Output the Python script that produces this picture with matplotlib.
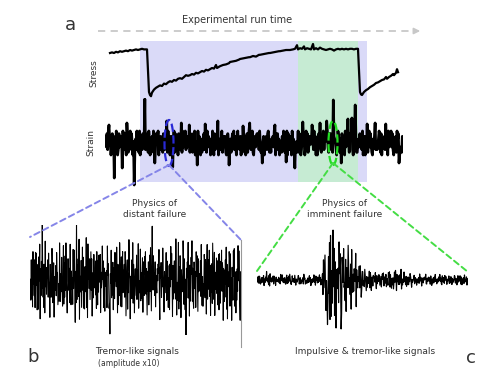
"""
Lab-quake figure: stress / strain run (a), tremor-like signal (b),
impulsive + tremor-like signal (c).
"""

import matplotlib
matplotlib.use("Agg")
import matplotlib.pyplot as plt
import numpy as np
from matplotlib.patches import Ellipse, ConnectionPatch

# ---- data ----

# stress curve: run time (0..298) and normalised stress
stress_t = [5, 7, 9, 11, 13, 15, 17, 19, 21, 23, 25, 27, 29, 31, 33, 35, 37, 39, 41, 42,
            43, 44, 45, 46,
            47, 49, 51, 53, 55, 57, 59, 61, 63, 65, 67, 69, 71, 73, 75, 77, 79, 81, 83, 85,
            87, 89, 91, 93, 95, 97, 99, 101, 103, 105, 107, 109, 111, 112, 114, 115, 118,
            121, 124, 125, 128, 131, 134, 135, 138, 141, 144, 145, 148, 151, 154, 155, 158,
            161, 164, 165, 168, 171, 174, 175, 178, 181, 184, 185, 188,
            190, 192, 193, 195, 197, 199, 200, 202, 204, 206, 208, 209, 211, 213, 215, 217,
            219, 221, 223, 225, 227, 229, 231, 233, 235, 237, 239, 241, 243, 245, 247, 249,
            251, 253,
            254, 255, 256, 257,
            259, 261, 263, 265, 267, 269, 271, 273, 275, 277, 279, 281, 282, 284, 286, 288,
            289, 291, 292, 293]
stress_val = [0.80, 0.81, 0.80, 0.82, 0.81, 0.83, 0.82, 0.83, 0.84, 0.83, 0.85, 0.84, 0.85,
              0.86, 0.85, 0.86, 0.87, 0.86, 0.86, 0.86,
              0.50, 0.15, 0.10, 0.08,
              0.14, 0.19, 0.22, 0.24, 0.26, 0.25, 0.29, 0.28, 0.31, 0.33, 0.32, 0.35, 0.34,
              0.37, 0.38, 0.37, 0.40, 0.43, 0.42, 0.43, 0.45, 0.44, 0.47, 0.46, 0.48, 0.50,
              0.49, 0.52, 0.51, 0.53, 0.55, 0.54, 0.60, 0.55, 0.57, 0.58, 0.60, 0.61, 0.63,
              0.65, 0.66, 0.67, 0.69, 0.70, 0.71, 0.72, 0.73, 0.73, 0.75, 0.74, 0.77, 0.77,
              0.78, 0.79, 0.80, 0.80, 0.81, 0.82, 0.83, 0.83, 0.84, 0.85, 0.85, 0.85, 0.86,
              0.87, 0.93, 0.86, 0.88, 0.87, 0.91, 0.86, 0.88, 0.87, 0.86, 0.95, 0.86, 0.88,
              0.86, 0.89, 0.87, 0.86, 0.85, 0.86, 0.87, 0.86, 0.84, 0.86, 0.87, 0.86, 0.87,
              0.86, 0.87, 0.86, 0.87, 0.87, 0.86, 0.87, 0.87,
              0.50, 0.15, 0.11, 0.10,
              0.15, 0.18, 0.20, 0.23, 0.25, 0.27, 0.30, 0.31, 0.33, 0.35, 0.36, 0.40, 0.37,
              0.40, 0.42, 0.45, 0.43, 0.47, 0.53, 0.48]

# strain noise, one digit per sample (0..9 -> -1..1)
strain_digits = (
    "47382916503827461950283746195283047162938405716293"
    "51903728466273819504173950284690527361842648193705"
    "73059182640846271935592736401836184902579472061538"
    "28519374606194082735803625914747103859261583927406"
    "93627041853705816924249105736868294130570537289614"
    "16473920588260531749517390842670946283513918502647"
    "60294813754518293706038472165927560931848241976530"
    "39751608427093462518685203947114638572905706241893"
    "84106379252369718045472158093659382064719685032174"
)
strain_amp = 12
# isolated strain spikes: run time, amplitude
spike_t = [4, 9, 17, 22, 29, 40, 50, 62, 68, 76, 84, 92, 100, 113, 124, 138, 145, 157,
           170, 181, 190, 198, 207, 215, 222, 228, 236, 243, 247, 250, 262, 270, 281, 294]
spike_val = [18, -35, -25, 20, -42, 44, -20, 22, -24, 20, 18, -22, 19, 22, -22, 17, 20,
             -20, 18, -19, -25, 21, 18, 20, 22, 43, -20, 24, 25, 38, 19, 20, 19, -20]

# zoomed windows in the run
window_t = [64, 228]

# panel b: tremor-like signal (amplitude x10), coarse + fine digit per sample
b_digits = (
    "45372618453627485136274815364953627184536472853164"
    "35862471534728561342852637415826374852147536284163"
    "52746831529364728153462583714263582718463725846153"
    "48635271842637548163584726315436285741206483527165"
    "27563841725386247158364728513672538641524638275146"
    "53726481534826357164375826415362473851695384627153"
    "36475821647253864153458273615426384751635736284152"
    "48263751643587264150627483516347583621743628574163"
    "56372841524286375168357482615362853471644736258173"
    "26483751625374826153486273516437582641526384752163"
)
b_fine = (
    "82037491563918402756057619382472610583944938017265"
    "17593820466082719354934056281728170946355064381927"
    "34928160757150398246082637495146192035878375019462"
    "60481937252957360418168304257992065187340531792648"
    "78129465034376205981529081736430659281476917402583"
    "02853796148541076392276394018591385604274602183759"
    "53706281491829304675740621593806948723513258791406"
    "96140583276073491825381962745024570369188120453796"
    "20638759415908142367074138629573860592141549270683"
    "48726190358235406179619275304809432185763657984012"
)
# amplitude envelope per block of 50 samples
b_envelope = [1.0, 0.92, 1.05, 0.95, 1.0, 0.9, 1.02, 1.05, 0.95, 1.0]
b_amp = 56

# panel c: impulsive burst followed by tremor
c_digits = (
    "36472851362748153649536271845364728531644537261845"
    "85263741582637485214753628416335862471534728561342"
    "46258371426358271846372584615352746831521364728153"
    "58472631543628574126648352716548635271842637548163"
    "36472851367253864152463827514627563841725386247158"
    "48263571643758264153624738516453726481535384627153"
    "72538641534582736154263847516336475821645736284152"
    "62748351634758362174362857416348263751643587264158"
    "35748261536285347164473625817356372841524286375168"
)
c_fine = (
    "29174058368053162947164092837573810562940562739841"
    "62940137853708295461915284730648361709252019658374"
    "75832401961426973058038561742969423085175371804962"
    "08461592739273546018461907283527583916408130467259"
    "30689154275901234786725408916314967520386827043195"
    "94153276082680471953013692857453098176424753260981"
    "12976840356942150378850731624906734928517385019246"
    "56308729140418763592392618540781420576392069348175"
    "47821095637195436028684129037535287641099517028436"
)
# envelope (px amplitude) for each block of 10 samples
c_envelope = [8, 8, 9, 8, 8, 8, 8, 8, 8, 8, 8, 8, 8, 52, 76, 72, 68, 62, 52, 40, 28,
              20, 15, 12, 10, 12, 17, 18, 16, 13, 10, 8, 9, 8, 8, 8, 8, 7, 8, 7, 8, 7]

digit_map = np.array([-1.0, -0.6, -0.4, -0.24, -0.08, 0.08, 0.24, 0.4, 0.6, 1.0])

W, H = 500, 387


def px_rect(x0, y0, x1, y1):
    """pixel box (top-left origin) -> figure fraction rect"""
    return [x0 / W, 1 - y1 / H, (x1 - x0) / W, (y1 - y0) / H]


def clean(ax):
    ax.set_axis_off()
    ax.patch.set_alpha(0)


def decode(coarse, fine, n):
    c = digit_map[[int(d) for d in coarse[:n]]]
    f = (np.array([int(d) for d in fine[:n]]) - 4.5) / 4.5 * 0.12
    return c + f


fig = plt.figure(figsize=(5.0, 3.87), dpi=100)
txt = "#333333"

# shaded zones behind panel a
ax_bg = fig.add_axes(px_rect(105, 41, 403, 182))
clean(ax_bg)
ax_bg.set_xlim(0, 298)
ax_bg.axvspan(35, 262, color="#dadaf8", lw=0)
ax_bg.axvspan(193, 253, color="#c6ebd3", lw=0)

# stress
ax_s = fig.add_axes(px_rect(105, 41, 403, 101))
clean(ax_s)
ax_s.set_xlim(0, 298)
ax_s.set_ylim(0, 1)
ax_s.plot(stress_t, stress_val, color="black", lw=1.6)

# strain
strain = (np.array([int(d) for d in strain_digits]) - 4.5) / 4.5 * strain_amp
t_strain = np.linspace(0, 298, len(strain))
for t, v in zip(spike_t, spike_val):
    strain[np.argmin(np.abs(t_strain - t))] = v
ax_e = fig.add_axes(px_rect(105, 98, 403, 188))
clean(ax_e)
ax_e.set_xlim(0, 298)
ax_e.set_ylim(-45, 45)
ax_e.plot(t_strain, strain, color="black", lw=2.0)
ax_e.add_patch(Ellipse((window_t[0], 0), 9, 46, fill=False, ls="--",
                       ec="#2a2ad6", lw=1.6, zorder=5))
ax_e.add_patch(Ellipse((window_t[1], 0), 9, 44, fill=False, ls="--",
                       ec="#22dd22", lw=1.6, zorder=5))

# panel b
n_b = min(len(b_digits), len(b_fine), len(b_envelope) * 50)
b_sig = decode(b_digits, b_fine, n_b) * b_amp * np.repeat(b_envelope, 50)[:n_b]
ax_b = fig.add_axes(px_rect(30, 225, 241, 335))
clean(ax_b)
ax_b.set_xlim(0, n_b - 1)
ax_b.set_ylim(-55, 55)
ax_b.plot(np.arange(n_b), b_sig, color="black", lw=0.75)

# panel c
n_c = min(len(c_digits), len(c_fine), len(c_envelope) * 10)
c_sig = decode(c_digits, c_fine, n_c) * np.repeat(c_envelope, 10)[:n_c]
ax_c = fig.add_axes(px_rect(257, 220, 468, 340))
clean(ax_c)
ax_c.set_xlim(0, n_c - 1)
ax_c.set_ylim(-60, 60)
ax_c.plot(np.arange(n_c), c_sig, color="black", lw=0.85)

# dashed zoom lines
for xyB in [(0, 43), (n_b - 1, 40)]:
    fig.add_artist(ConnectionPatch(xyA=(window_t[0], -22), coordsA=ax_e.transData,
                                   xyB=xyB, coordsB=ax_b.transData,
                                   color="#8585e8", ls=(0, (3, 2)), lw=1.4))
for xyB in [(0, 9), (n_c - 1, 8)]:
    fig.add_artist(ConnectionPatch(xyA=(window_t[1], -20), coordsA=ax_e.transData,
                                   xyB=xyB, coordsB=ax_c.transData,
                                   color="#44dd44", ls=(0, (3, 2)), lw=1.4))

# overlay for labels and arrow (pixel coords)
ax_o = fig.add_axes([0, 0, 1, 1])
clean(ax_o)
ax_o.set_xlim(0, W)
ax_o.set_ylim(H, 0)
ax_o.plot([98, 414], [31, 31], color="#c8c8c8", ls=(0, (4, 3)), lw=1.3)
ax_o.annotate("", xy=(423, 31), xytext=(412, 31),
              arrowprops=dict(arrowstyle="-|>", color="#c8c8c8", lw=1.2,
                              mutation_scale=9))
ax_o.plot([241, 241], [240, 347], color="#999999", lw=0.8)

ax_o.text(70, 25, "a", fontsize=13, color=txt, ha="center", va="center")
ax_o.text(237, 20, "Experimental run time", fontsize=7, color=txt,
          ha="center", va="center")
ax_o.text(94, 73, "Stress", fontsize=6.5, color=txt, rotation=90,
          ha="center", va="center")
ax_o.text(91, 142, "Strain", fontsize=6.5, color=txt, rotation=90,
          ha="center", va="center")
ax_o.text(155, 209, "Physics of\ndistant failure", fontsize=6.5, color=txt,
          ha="center", va="center", linespacing=1.3)
ax_o.text(345, 209, "Physics of\nimminent failure", fontsize=6.5, color=txt,
          ha="center", va="center", linespacing=1.3)
ax_o.text(33, 357, "b", fontsize=13, color=txt, ha="center", va="center")
ax_o.text(137, 352, "Tremor-like signals", fontsize=6.5, color=txt,
          ha="center", va="center")
ax_o.text(129, 363, "(amplitude x10)", fontsize=5.5, color=txt,
          ha="center", va="center")
ax_o.text(365, 352, "Impulsive & tremor-like signals", fontsize=6.5, color=txt,
          ha="center", va="center")
ax_o.text(471, 358, "c", fontsize=13, color=txt, ha="center", va="center")

fig.savefig("out.png", dpi=100)
